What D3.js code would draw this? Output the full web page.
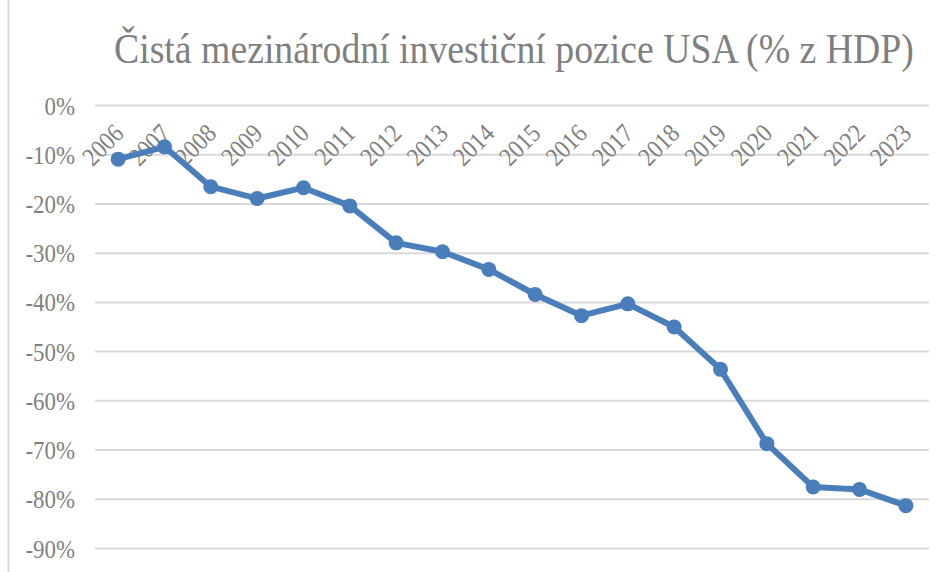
<!DOCTYPE html>
<html><head><meta charset="utf-8">
<script src="https://cdn.jsdelivr.net/npm/d3@7"></script>
<style>body{margin:0;background:#fff}svg{display:block}</style>
</head><body>
<svg id="c" width="946" height="572"></svg>
<script>
const title = "Čistá mezinárodní investiční pozice USA (% z HDP)";
const years = ["2006","2007","2008","2009","2010","2011","2012","2013","2014","2015","2016","2017","2018","2019","2020","2021","2022","2023"];
const values = [-11.0,-8.5,-16.6,-19.0,-16.8,-20.5,-28.0,-29.8,-33.4,-38.5,-42.8,-40.4,-45.1,-53.7,-68.8,-77.6,-78.1,-81.4];
const yTicks = [0,-10,-20,-30,-40,-50,-60,-70,-80,-90];

(function(){
const svg = d3.select("#c");
const font = "'Liberation Serif','DejaVu Serif',serif";
const grey = "#7f7f7f";
const pL = 95, pR = 929, pT = 105, pB = 548;
const sx = 0.88;

svg.append("line").attr("x1",8.5).attr("x2",8.5).attr("y1",0).attr("y2",572)
  .attr("stroke","#d9d9d9").attr("stroke-width",2);

const x = d3.scaleBand().domain(years).range([pL,pR]);
const y = d3.scaleLinear().domain([0,-90]).range([pT,pB]);

const t = svg.append("text").attr("x",0).attr("y",0).attr("fill",grey)
  .attr("font-family",font).attr("font-size",42).text(title);
const w = t.node().getComputedTextLength();
t.attr("transform",`translate(114,63) scale(${Math.min(1,800/w)},1)`);

const gy = svg.append("g").attr("transform",`translate(${pL},0)`)
  .call(d3.axisLeft(y).tickValues(yTicks).tickSize(-(pR-pL)).tickFormat(d=>d+"%"));
gy.select(".domain").remove();
gy.selectAll(".tick line").attr("stroke","#d9d9d9").attr("stroke-width",2);
gy.selectAll(".tick text").attr("x",null).attr("dy","0.35em")
  .attr("transform",`translate(-20,0) scale(${sx},1)`).attr("fill",grey)
  .attr("font-family",font).attr("font-size",26);

const gx = svg.append("g").attr("transform",`translate(0,${pT})`)
  .call(d3.axisBottom(x).tickSize(0));
gx.select(".domain").remove();
gx.selectAll(".tick text").attr("fill",grey).attr("font-family",font).attr("font-size",26)
  .attr("text-anchor","end").attr("dy",null).attr("y",0)
  .attr("transform",`translate(7,30) rotate(-45) scale(${sx},1)`);

const line = d3.line().x((d,i)=>x(years[i])+x.bandwidth()/2).y(d=>y(d));
svg.append("path").datum(values).attr("d",line).attr("fill","none")
  .attr("stroke","#4a7ebb").attr("stroke-width",6).attr("stroke-linejoin","round");
svg.selectAll("circle.pt").data(values).join("circle").attr("class","pt")
  .attr("cx",(d,i)=>x(years[i])+x.bandwidth()/2).attr("cy",d=>y(d)).attr("r",7.5)
  .attr("fill","#4a7ebb");
})();
</script>
</body></html>
